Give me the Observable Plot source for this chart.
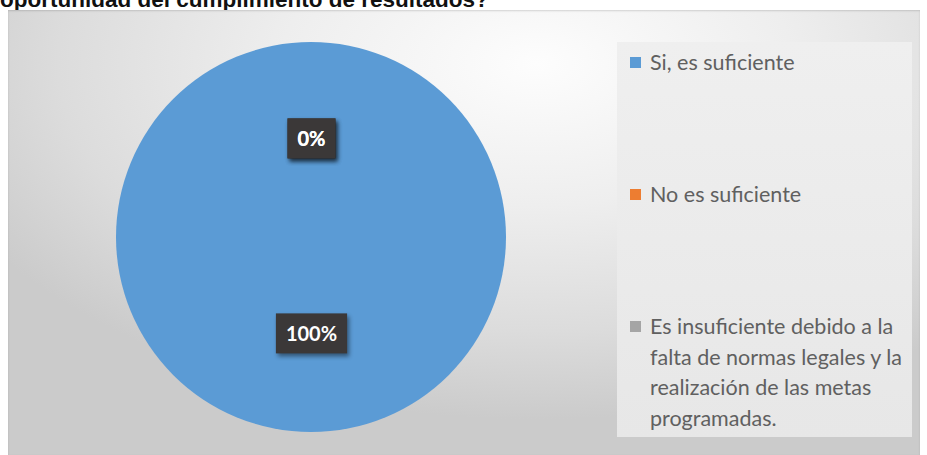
<!DOCTYPE html>
<html>
<head>
<meta charset="utf-8">
<script src="https://cdn.jsdelivr.net/npm/d3@7"></script>
<script src="https://cdn.jsdelivr.net/npm/@observablehq/plot@0.6"></script>
<style>
  html, body { margin: 0; padding: 0; background: #ffffff; }
  body { width: 927px; height: 455px; position: relative; overflow: hidden; }
  #title {
    position: absolute; left: 0; top: -13px; white-space: nowrap;
    font-family: "Liberation Sans", Arial, sans-serif; font-weight: bold;
    font-size: 22.5px; line-height: 26px; color: #111;
  }
  #panel {
    position: absolute; left: 8px; top: 10px; width: 912px; height: 445px;
    background: radial-gradient(ellipse 70% 80% at 58% 12%, #fdfdfd 0%, #eeeeee 40%, #dcdcdc 75%, #cbcbcb 100%);
    box-shadow: inset 0 1px 2px rgba(0,0,0,0.15);
  }
  #legendbox {
    position: absolute; left: 617px; top: 42px; width: 295px; height: 395px;
    background: linear-gradient(180deg, #efefef 0%, #e7e7e7 100%);
  }
  #chart { position: absolute; left: 0; top: 0; }
  #legend {
    position: absolute; left: 630px; top: 0;
    font-family: Lato, "Open Sans", sans-serif; font-size: 21.5px; color: #606060;
  }
  .item { position: absolute; left: 0; white-space: nowrap; line-height: 30.5px; }
  .sw { position: absolute; left: 0; width: 11px; height: 11px; }
  .lbl { position: absolute; left: 20px; }
</style>
</head>
<body>
<div id="title">oportunidad del cumplimiento de resultados?</div>
<div id="panel"></div>
<div id="legendbox"></div>
<div id="chart"></div>
<div id="legend"></div>
<script>
const categories = ["Si, es suficiente", "No es suficiente", "Es insuficiente debido a la falta de normas legales y la realización de las metas programadas."];
const legendLines = [["Si, es suficiente"], ["No es suficiente"], ["Es insuficiente debido a la", "falta de normas legales y la", "realización de las metas", "programadas."]];
const values = [100, 0, 0];
const colors = ["#5B9BD5", "#ED7D31", "#A5A5A5"];

const total = d3.sum(values);
const data = categories.map((c, i) => ({category: c, value: values[i], pct: values[i] / total}));
const arcs = d3.pie().sort(null).value(d => d.value)(data);
const unitArc = d3.arc().innerRadius(0).outerRadius(1);
const labels = arcs.map(a => {
  const [cx, cy] = unitArc.centroid(a);
  return {category: a.data.category, x: cx, y: -cy, text: d3.format(".0%")(a.data.pct)};
});

// custom pie mark drawn through Plot's x/y scales
function pieMark(index, scales) {
  const x0 = scales.x(0), y0 = scales.y(0);
  const r = Math.abs(scales.x(1) - scales.x(0));
  const arc = d3.arc().innerRadius(0).outerRadius(r);
  const g = d3.create("svg:g").attr("transform", `translate(${x0},${y0})`);
  g.selectAll("path").data(arcs.filter(a => a.endAngle > a.startAngle)).join("path")
    .attr("d", arc)
    .attr("fill", d => scales.color(d.data.category))
    .attr("stroke", d => (d.endAngle - d.startAngle) >= 2 * Math.PI - 1e-9 ? "none" : "#f4f4f4")
    .attr("stroke-width", 1.5);
  return g.node();
}

const cx = 311, cy = 237, R = 195;
const W = 927, H = 455;
const plot = Plot.plot({
  width: W, height: H,
  marginLeft: cx - R, marginRight: W - (cx + R),
  marginTop: cy - R, marginBottom: H - (cy + R),
  x: {domain: [-1, 1], axis: null},
  y: {domain: [-1, 1], axis: null},
  color: {domain: categories, range: colors},
  style: {background: "transparent", overflow: "visible"},
  marks: [
    Plot.dot(labels, {x: "x", y: "y", fill: "category", r: 0}),
    pieMark,
    Plot.text(labels, {x: "x", y: "y", text: "text", fill: "white", fontWeight: "bold",
      fontSize: 20, fontFamily: "Lato, 'Open Sans', sans-serif", className: "dlabel"})
  ]
});
document.getElementById("chart").appendChild(plot);

// dark boxes behind data labels
d3.select(plot).selectAll("g.dlabel text").each(function() {
  const bb = this.getBBox();
  const padX = 10, padY = 8;
  const parent = this.parentNode;
  const rect = document.createElementNS("http://www.w3.org/2000/svg", "rect");
  const t = this.getAttribute("transform") || "";
  rect.setAttribute("x", bb.x - padX);
  rect.setAttribute("y", bb.y - padY);
  rect.setAttribute("width", bb.width + 2 * padX);
  rect.setAttribute("height", bb.height + 2 * padY);
  rect.setAttribute("fill", "#3b3838");
  rect.setAttribute("transform", t);
  rect.setAttribute("style", "filter: drop-shadow(2px 3px 2px rgba(0,0,0,0.45))");
  parent.insertBefore(rect, parent.firstChild);
});

// legend
const legendTops = [47, 179, 311];
const leg = document.getElementById("legend");
legendLines.forEach((lines, i) => {
  const item = document.createElement("div");
  item.className = "item";
  item.style.top = legendTops[i] + "px";
  const sw = document.createElement("div");
  sw.className = "sw";
  sw.style.background = colors[i];
  sw.style.top = "10px";
  const lbl = document.createElement("div");
  lbl.className = "lbl";
  lbl.innerHTML = lines.join("<br>");
  item.appendChild(sw);
  item.appendChild(lbl);
  leg.appendChild(item);
});
</script>
</body>
</html>
